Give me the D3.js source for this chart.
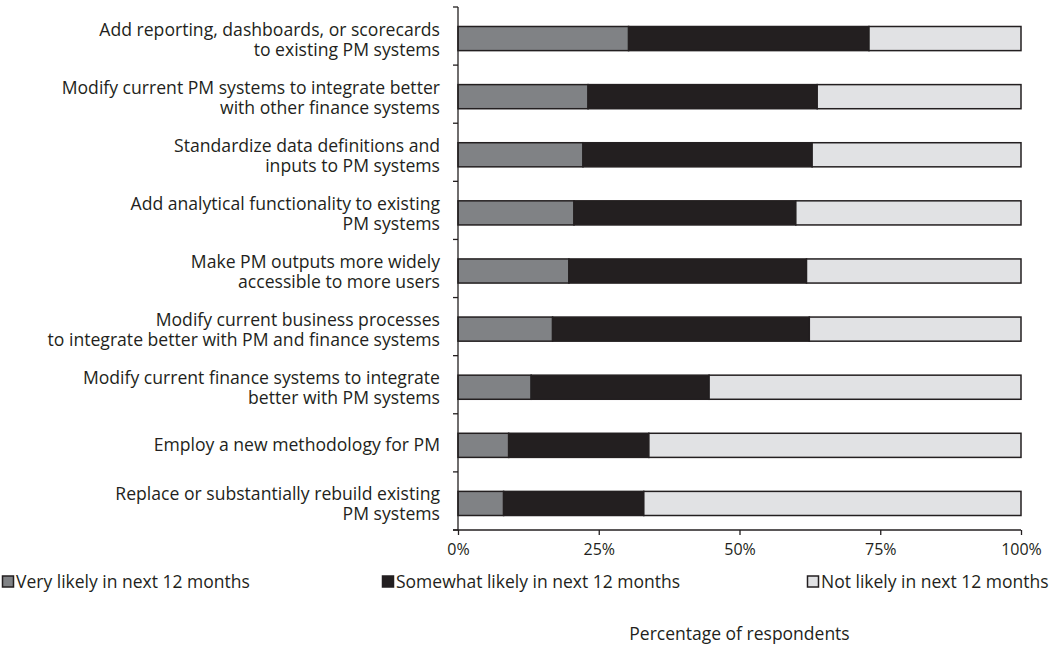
<!DOCTYPE html>
<html>
<head>
<meta charset="utf-8">
<script src="https://cdn.jsdelivr.net/npm/d3@7"></script>
<style>
  body { margin: 0; background: #fff; }
  svg text { font-family: "Open Sans", sans-serif; fill: #231f20; }
</style>
</head>
<body>
<div id="chart"></div>
<script>
// survey items, top to bottom
var categories = [
  "Add reporting, dashboards, or scorecards\nto existing PM systems",
  "Modify current PM systems to integrate better\nwith other finance systems",
  "Standardize data definitions and\ninputs to PM systems",
  "Add analytical functionality to existing\nPM systems",
  "Make PM outputs more widely\naccessible to more users",
  "Modify current business processes\nto integrate better with PM and finance systems",
  "Modify current finance systems to integrate\nbetter with PM systems",
  "Employ a new methodology for PM",
  "Replace or substantially rebuild existing\nPM systems"
];

var seriesNames = ["Very likely in next 12 months", "Somewhat likely in next 12 months", "Not likely in next 12 months"];
var veryLikely     = [30.3, 23.1, 22.2, 20.6, 19.7, 16.8, 13.0, 9.0, 8.1];
var somewhatLikely = [42.7, 40.7, 40.7, 39.4, 42.2, 45.6, 31.6, 24.9, 24.9];
var notLikely      = [27.0, 36.2, 37.1, 40.0, 38.1, 37.6, 55.4, 66.1, 67.0];
var tickValues = [0, 25, 50, 75, 100];

var colors = ["#808285", "#231f20", "#e1e2e4"];
var ink = "#231f20";

var width = 1055,
  height = 652,
  plotLeft = 458,
  plotRight = 1021,
  plotTop = 7,
  plotBottom = 530;

var rows = categories.map(function (c, i) {
  return { cat: c, s0: veryLikely[i], s1: somewhatLikely[i], s2: notLikely[i] };
});

var stack = d3.stack().keys(["s0", "s1", "s2"]);
var layers = stack(rows);

var x = d3.scaleLinear().domain([0, 100]).range([plotLeft, plotRight]);
var y = d3.scaleBand().domain(categories).range([plotTop, plotBottom]);
// bars sit a touch below the band centre in the original
var yBar = d3.scaleBand().domain(categories).range([plotTop + 2.5, plotBottom + 2.5])
  .paddingInner(0.585).paddingOuter(0.2925);

var svg = d3.select("#chart").append("svg")
  .attr("width", width)
  .attr("height", height);

// bars
svg.append("g")
  .selectAll("g")
  .data(layers)
  .enter()
  .append("g")
  .attr("fill", function (d, i) { return colors[i]; })
  .selectAll("rect")
  .data(function (d) { return d; })
  .enter()
  .append("rect")
  .attr("x", function (d) { return x(d[0]); })
  .attr("width", function (d) { return x(d[1]) - x(d[0]); })
  .attr("y", function (d) { return yBar(d.data.cat); })
  .attr("height", yBar.bandwidth())
  .attr("stroke", ink)
  .attr("stroke-width", 1.5);

// y axis: line and ticks at band edges
var edges = d3.range(categories.length + 1).map(function (i) {
  return plotTop + i * y.step();
});
var yAxis = svg.append("g");
yAxis.append("line")
  .attr("x1", plotLeft).attr("x2", plotLeft)
  .attr("y1", plotTop).attr("y2", plotBottom)
  .attr("stroke", ink).attr("stroke-width", 1.3);
yAxis.selectAll("line.tick")
  .data(edges)
  .enter()
  .append("line")
  .attr("class", "tick")
  .attr("x1", plotLeft - 5).attr("x2", plotLeft)
  .attr("y1", function (d) { return d; })
  .attr("y2", function (d) { return d; })
  .attr("stroke", ink).attr("stroke-width", 1.3);

// category labels
var labels = svg.append("g")
  .attr("text-anchor", "end")
  .style("font-size", "17.6px");
labels.selectAll("text")
  .data(categories)
  .enter()
  .append("text")
  .each(function (d) {
    var lines = d.split("\n");
    var t = d3.select(this);
    var cy = yBar(d) + yBar.bandwidth() / 2;
    lines.forEach(function (line, i) {
      var base = lines.length === 1 ? cy + 6 : cy - 3 + i * 20;
      t.append("tspan")
        .attr("x", plotLeft - 18)
        .attr("y", base)
        .text(line);
    });
  });

// x axis
var xAxis = svg.append("g")
  .attr("transform", "translate(0," + plotBottom + ")")
  .call(d3.axisBottom(x)
    .tickValues(tickValues)
    .tickSize(5)
    .tickPadding(9)
    .tickFormat(function (d) { return d + "%"; }));
xAxis.select(".domain").attr("stroke", ink).attr("stroke-width", 1.3)
  .attr("d", "M" + (plotLeft - 5) + ",0H" + plotRight);
xAxis.selectAll(".tick line").attr("stroke", ink).attr("stroke-width", 1.3);
xAxis.selectAll(".tick text")
  .style("font-size", "16px")
  .style("font-family", "'Open Sans', sans-serif")
  .attr("fill", ink);

// legend
var legendX = [2, 382, 807];
var legend = svg.append("g")
  .selectAll("g")
  .data(seriesNames)
  .enter()
  .append("g")
  .attr("transform", function (d, i) { return "translate(" + legendX[i] + ",588)"; });
legend.append("rect")
  .attr("x", 0.5).attr("y", -12)
  .attr("width", 11).attr("height", 11)
  .attr("fill", function (d, i) { return colors[i]; })
  .attr("stroke", ink).attr("stroke-width", 1.5);
legend.append("text")
  .attr("x", 14)
  .attr("y", 0)
  .style("font-size", "17.5px")
  .text(function (d) { return d; });

// axis title
svg.append("text")
  .attr("x", (plotLeft + plotRight) / 2)
  .attr("y", 640)
  .attr("text-anchor", "middle")
  .style("font-size", "17.5px")
  .text("Percentage of respondents");
</script>
</body>
</html>
